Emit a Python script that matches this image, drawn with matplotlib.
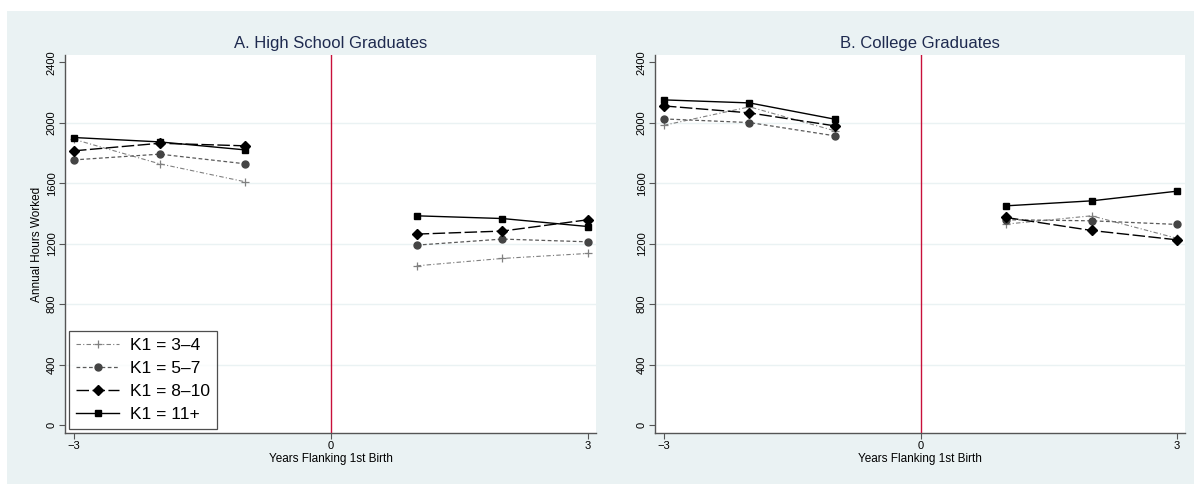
import matplotlib.pyplot as plt
from matplotlib.patches import Rectangle

years = [-3, -2, -1, 1, 2, 3]
labels = ["K1 = 3\u20134", "K1 = 5\u20137", "K1 = 8\u201310", "K1 = 11+"]

hs_k34 = [1890, 1728, 1609, 1053, 1102, 1135]
hs_k57 = [1754, 1792, 1728, 1190, 1230, 1212]
hs_k810 = [1814, 1864, 1847, 1263, 1283, 1358]
hs_k11 = [1902, 1873, 1820, 1384, 1366, 1313]

col_k34 = [1983, 2105, 1946, 1329, 1384, 1235]
col_k57 = [2025, 2001, 1913, 1358, 1351, 1327]
col_k810 = [2111, 2065, 1979, 1373, 1287, 1225]
col_k11 = [2151, 2131, 2023, 1450, 1483, 1547]

titles = ["A. High School Graduates", "B. College Graduates"]
yticks = [0, 400, 800, 1200, 1600, 2000, 2400]
xticks = [-3, 0, 3]

BG = "#EAF2F3"
STYLES = [
    dict(color="#808080", ls=(0, (4, 2, 1, 2)), lw=0.8, marker="+", ms=6, mew=0.9, mfc="#808080", mec="#808080"),
    dict(color="#5a5a5a", ls=(0, (3, 2)), lw=0.9, marker="o", ms=5, mfc="#444444", mec="#444444"),
    dict(color="black", ls=(0, (9, 2.5)), lw=1.0, marker="D", ms=5, mfc="black", mec="black"),
    dict(color="black", ls="-", lw=1.0, marker="s", ms=5, mfc="black", mec="black"),
]

plt.rcParams["font.family"] = ["Liberation Sans", "DejaVu Sans"]

fig = plt.figure(figsize=(11.94, 4.84), dpi=100)
fig.patches.append(Rectangle((7 / 1194, 0), 1, 473 / 484, transform=fig.transFigure,
                             facecolor=BG, edgecolor="none", zorder=-10))

panels = [
    (fig.add_axes([65 / 1194, 51 / 484, 531 / 1194, 378 / 484]), [hs_k34, hs_k57, hs_k810, hs_k11]),
    (fig.add_axes([655 / 1194, 51 / 484, 530 / 1194, 378 / 484]), [col_k34, col_k57, col_k810, col_k11]),
]

for i, (ax, series) in enumerate(panels):
    ax.set_facecolor("white")
    handles = []
    for vals, st, lab in zip(series, STYLES, labels):
        # lines are broken at year 0
        ax.plot(years[:3], vals[:3], **st)
        h, = ax.plot(years[3:], vals[3:], label=lab, **st)
        handles.append(h)
    ax.axvline(0, color="#C8103A", lw=1.0, zorder=1)
    ax.set_xlim(-3.105, 3.093)
    ax.set_ylim(-53, 2448)
    ax.set_xticks(xticks)
    ax.set_yticks(yticks)
    ax.set_yticklabels([str(t) for t in yticks], rotation=90, va="center")
    for t in [400, 800, 1200, 1600, 2000]:
        ax.axhline(t, color=BG, lw=1.0, zorder=0)
    for s in ["top", "right"]:
        ax.spines[s].set_visible(False)
    for s in ["left", "bottom"]:
        ax.spines[s].set_color("#555555")
        ax.spines[s].set_linewidth(1.0)
    ax.tick_params(axis="both", labelsize=8, length=4, width=0.8, color="#555555", pad=2)
    ax.set_xlabel("Years Flanking 1st Birth", fontsize=8.5, labelpad=1)
    ax.set_title(titles[i], fontsize=12, color="#1E2A4F", pad=5)
    if i == 0:
        ax.set_ylabel("Annual Hours Worked", fontsize=8.5, labelpad=3)
        leg = ax.legend(handles=handles, loc="lower left", bbox_to_anchor=(0.0075, 0.0106),
                        borderaxespad=0, fontsize=12.5, frameon=True, fancybox=False,
                        handlelength=2.5, handletextpad=0.6, labelspacing=0.45,
                        borderpad=0.4)
        leg.get_frame().set_edgecolor("#222222")
        leg.get_frame().set_linewidth(0.9)

fig.savefig("out.png", dpi=100)
